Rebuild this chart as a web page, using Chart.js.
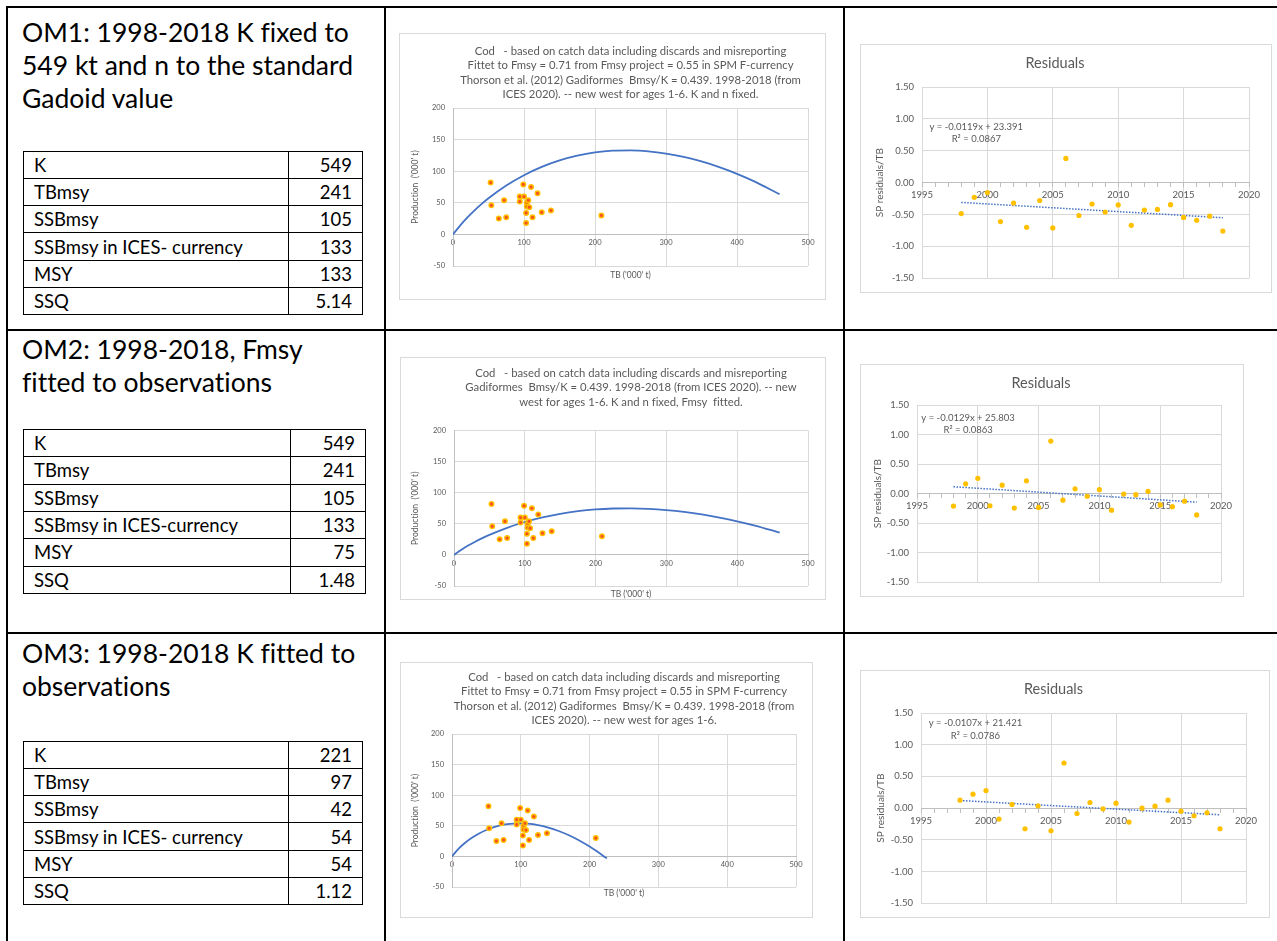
<!DOCTYPE html>
<html>
<head>
<meta charset="utf-8">
<script src="https://cdn.jsdelivr.net/npm/chart.js@4.4.1/dist/chart.umd.min.js"></script>
<style>
body { margin: 0; background: #fff; font-family: Lato, 'Open Sans', sans-serif; font-variant-ligatures: none; }
#page { position: relative; width: 1277px; height: 941px; overflow: hidden; background: #fff; }
.rule { position: absolute; background: #000; }
.om { position: absolute; left: 22px; font-size: 26.5px; line-height: 33px; color: #000; white-space: nowrap; }
table.p { position: absolute; left: 23px; border-collapse: collapse; font-size: 18.5px; color: #000; }
table.p td { border: 1.5px solid #000; padding: 0 10px; line-height: 20px; white-space: nowrap; }
table.p td.v { text-align: right; }
.box { position: absolute; border: 1px solid #d9d9d9; box-sizing: border-box; }
.box canvas { display: block; }
</style>
</head>
<body>
<div id="page">
  <!-- outer table lines -->
  <div class="rule" style="left:6px;top:6px;width:1271px;height:2px"></div>
  <div class="rule" style="left:6px;top:329px;width:1271px;height:2px"></div>
  <div class="rule" style="left:6px;top:632px;width:1271px;height:2px"></div>
  <div class="rule" style="left:6px;top:6px;width:2px;height:935px"></div>
  <div class="rule" style="left:384px;top:6px;width:2px;height:935px"></div>
  <div class="rule" style="left:843px;top:6px;width:2px;height:935px"></div>

  <div class="om" style="top:16px">OM1: 1998-2018 K fixed to<br>549 kt and n to the standard<br>Gadoid value</div>
  <table class="p" id="t1" style="top:151px;width:340px;height:164px"></table>

  <div class="om" style="top:333px">OM2: 1998-2018, Fmsy<br>fitted to observations</div>
  <table class="p" id="t2" style="top:429px;width:343px;height:165px"></table>

  <div class="om" style="top:637px">OM3: 1998-2018 K fitted to<br>observations</div>
  <table class="p" id="t3" style="top:741px;width:340px;height:164px"></table>

  <div class="box" style="left:399px;top:33px;width:427px;height:267px"><canvas id="p1" width="425" height="265"></canvas></div>
  <div class="box" style="left:400px;top:357px;width:426px;height:243px"><canvas id="p2" width="424" height="241"></canvas></div>
  <div class="box" style="left:400px;top:662px;width:413px;height:256px"><canvas id="p3" width="411" height="254"></canvas></div>

  <div class="box" style="left:860px;top:44px;width:412px;height:249px"><canvas id="r1" width="410" height="247"></canvas></div>
  <div class="box" style="left:860px;top:364px;width:384px;height:233px"><canvas id="r2" width="382" height="231"></canvas></div>
  <div class="box" style="left:860px;top:670px;width:410px;height:248px"><canvas id="r3" width="408" height="246"></canvas></div>
</div>

<script>
// parameter tables
const paramNames1 = ['K', 'TBmsy', 'SSBmsy', 'SSBmsy in ICES- currency', 'MSY', 'SSQ'];
const paramNames2 = ['K', 'TBmsy', 'SSBmsy', 'SSBmsy in ICES-currency', 'MSY', 'SSQ'];
const paramValues1 = ['549', '241', '105', '133', '133', '5.14'];
const paramValues2 = ['549', '241', '105', '133', '75', '1.48'];
const paramValues3 = ['221', '97', '42', '54', '54', '1.12'];

// observed TB vs production ('000 t), 1998-2018
const obsTB = [53, 54, 64.5, 72, 75, 94, 94, 99, 100, 103, 103, 104, 104, 106, 107.5, 110, 112, 119, 125, 138, 209];
const obsProd = [82, 46, 25, 54, 27, 60, 52, 79, 60, 34, 18, 50, 44, 54, 43, 75, 27, 65, 35, 38, 30];

// production curves
const curveTB12 = [0, 10, 20, 30, 40, 50, 75, 100, 125, 150, 175, 200, 225, 250, 275, 300, 325, 350, 375, 400, 425, 460];
const curveP1 = [0, 14, 26.5, 37.6, 47.8, 57.1, 77.3, 93.7, 106.8, 117.1, 124.6, 129.7, 132.4, 132.9, 131.4, 127.9, 122.5, 115.4, 106.4, 95.8, 83.5, 63.6];
const curveP2 = [0, 8, 15, 21.2, 27, 32.2, 43.6, 52.9, 60.2, 66, 70.3, 73.1, 74.6, 74.9, 74.1, 72.1, 69.1, 65.1, 60, 54, 47.1, 35.9];
const curveTB3 = [0, 10, 20, 30, 40, 50, 60, 70, 80, 97, 110, 125, 140, 155, 170, 185, 200, 210, 220, 225];
const curveP3 = [0, 13, 23.1, 31.2, 37.9, 43.2, 47.4, 50.5, 52.6, 54, 53.4, 51.1, 47.1, 41.5, 34.5, 26, 16.1, 8.7, 0.8, -3.3];

// residuals (SP residuals / TB)
const years = [1998, 1999, 2000, 2001, 2002, 2003, 2004, 2005, 2006, 2007, 2008, 2009, 2010, 2011, 2012, 2013, 2014, 2015, 2016, 2017, 2018];
const resid1 = [-0.485, -0.23, -0.155, -0.61, -0.32, -0.70, -0.28, -0.71, 0.38, -0.515, -0.335, -0.46, -0.35, -0.67, -0.43, -0.42, -0.345, -0.545, -0.59, -0.525, -0.76];
const resid2 = [-0.21, 0.167, 0.26, -0.205, 0.144, -0.244, 0.217, -0.233, 0.89, -0.11, 0.083, -0.044, 0.067, -0.28, -0.006, -0.017, 0.039, -0.19, -0.22, -0.128, -0.36];
const resid3 = [0.126, 0.22, 0.277, -0.173, 0.058, -0.325, 0.037, -0.356, 0.712, -0.084, 0.089, -0.01, 0.079, -0.22, 0, 0.031, 0.126, -0.047, -0.12, -0.073, -0.325];
const trendYears = [1998, 2018];
const trend1 = [-0.31, -0.55];
const trend2 = [0.117, -0.144];
const trend3 = [0.12, -0.105];
const eq1 = ['y = -0.0119x + 23.391', 'R\u00b2 = 0.0867'];
const eq2 = ['y = -0.0129x + 25.803', 'R\u00b2 = 0.0863'];
const eq3 = ['y = -0.0107x + 21.421', 'R\u00b2 = 0.0786'];

const title1 = ['Cod   - based on catch data including discards and misreporting',
  'Fittet to Fmsy = 0.71 from Fmsy project = 0.55 in SPM F-currency',
  'Thorson et al. (2012) Gadiformes  Bmsy/K = 0.439. 1998-2018 (from',
  'ICES 2020). -- new west for ages 1-6. K and n fixed.'];
const title2 = ['Cod   - based on catch data including discards and misreporting',
  'Gadiformes  Bmsy/K = 0.439. 1998-2018 (from ICES 2020). -- new',
  'west for ages 1-6. K and n fixed, Fmsy  fitted.'];
const title3 = ['Cod   - based on catch data including discards and misreporting',
  'Fittet to Fmsy = 0.71 from Fmsy project = 0.55 in SPM F-currency',
  'Thorson et al. (2012) Gadiformes  Bmsy/K = 0.439. 1998-2018 (from',
  'ICES 2020). -- new west for ages 1-6.'];

function fillTable(id, names, values) {
  const t = document.getElementById(id);
  names.forEach((n, i) => {
    const tr = document.createElement('tr');
    tr.innerHTML = '<td>' + n + '</td><td class="v">' + values[i] + '</td>';
    t.appendChild(tr);
  });
}
fillTable('t1', paramNames1, paramValues1);
fillTable('t2', paramNames2, paramValues2);
fillTable('t3', paramNames1, paramValues3);
document.querySelectorAll('#t1 td:first-child, #t3 td:first-child').forEach(td => td.style.width = '244px');
document.querySelector('#t2 td:first-child').style.width = '246px';

Chart.defaults.font.family = 'Lato, "Open Sans", sans-serif';
Chart.defaults.color = '#595959';
Chart.defaults.animation = false;

const GRID = '#d9d9d9';
const AXIS = '#bfbfbf';

// draws the trendline equation inside the plot
const eqPlugin = {
  id: 'eqLabel',
  afterDatasetsDraw(chart, args, opts) {
    if (!opts.lines) return;
    const ctx = chart.ctx;
    const x = chart.scales.x.getPixelForValue(opts.x);
    ctx.save();
    ctx.font = '9.5px Lato, "Open Sans", sans-serif';
    ctx.fillStyle = '#595959';
    ctx.textAlign = 'center';
    ctx.textBaseline = 'middle';
    opts.lines.forEach((l, i) => ctx.fillText(l, x, chart.scales.y.getPixelForValue(opts.y[i])));
    ctx.restore();
  }
};
Chart.register(eqPlugin);

function prodChart(id, cx, cy, title, lay) {
  new Chart(document.getElementById(id), {
    type: 'scatter',
    data: {
      datasets: [{
        data: obsTB.map((x, i) => ({ x: x, y: obsProd[i] })),
        pointRadius: 2.3,
        pointBackgroundColor: '#f4511e',
        pointBorderColor: '#ffc000',
        pointBorderWidth: 1.4,
        order: 0
      }, {
        data: cx.map((x, i) => ({ x: x, y: cy[i] })),
        showLine: true,
        borderColor: '#4472c4',
        borderWidth: 1.8,
        pointRadius: 0,
        cubicInterpolationMode: 'monotone',
        order: 1
      }]
    },
    options: {
      responsive: false,
      layout: { padding: { left: 0, right: lay.right, top: 0, bottom: 0 } },
      plugins: {
        legend: { display: false },
        tooltip: { enabled: false },
        title: {
          display: true, text: title, fullSize: false,
          font: { size: 11.3, weight: 'normal', lineHeight: '14.5px' },
          color: '#595959',
          padding: { top: lay.tTop, bottom: lay.tBot }
        },
        subtitle: {
          display: true, text: "TB ('000' t)", position: 'bottom', fullSize: false,
          font: { size: 8.5, lineHeight: '10px' },
          color: '#595959',
          padding: { top: lay.sTop, bottom: lay.sBot }
        }
      },
      scales: {
        x: {
          min: 0, max: 500, position: { y: 0 },
          ticks: { stepSize: 100, font: { size: 7.5 }, padding: 4 },
          grid: { color: GRID, drawTicks: false },
          border: { color: AXIS }
        },
        y: {
          min: -50, max: 200,
          ticks: { stepSize: 50, font: { size: 7.5 }, padding: 8 },
          grid: { color: GRID, drawTicks: false },
          border: { color: AXIS },
          title: {
            display: true, text: "Production  ('000' t)",
            font: { size: 8.5, lineHeight: '10px' },
            padding: { top: lay.yt, bottom: 0 }
          },
          afterFit: s => { s.width = lay.axisW; }
        }
      }
    }
  });
}

function residChart(id, res, trend, eq, lay) {
  new Chart(document.getElementById(id), {
    type: 'scatter',
    data: {
      datasets: [{
        data: years.map((x, i) => ({ x: x, y: res[i] })),
        pointRadius: 2.6,
        pointBackgroundColor: '#ffc000',
        pointBorderWidth: 0,
        order: 0
      }, {
        data: trendYears.map((x, i) => ({ x: x, y: trend[i] })),
        showLine: true,
        borderColor: '#4472c4',
        borderWidth: 1.5,
        borderDash: [1.5, 1.5],
        pointRadius: 0,
        order: 1
      }]
    },
    options: {
      responsive: false,
      layout: { padding: { left: 0, right: lay.right, top: 0, bottom: lay.bottom } },
      plugins: {
        legend: { display: false },
        tooltip: { enabled: false },
        title: {
          display: true, text: 'Residuals',
          font: { size: 14.5, weight: 'normal', lineHeight: '17px' },
          color: '#595959',
          padding: { top: lay.tTop, bottom: lay.tBot }
        },
        eqLabel: { lines: eq, x: lay.eqX, y: lay.eqY }
      },
      scales: {
        x: {
          min: 1995, max: 2020, position: { y: 0 },
          ticks: {
            stepSize: 1, autoSkip: false, maxRotation: 0, maxTicksLimit: 100,
            font: { size: 9.5 }, padding: 3,
            callback: v => (v % 5 === 0 ? String(v) : '')
          },
          grid: {
            color: c => (c.tick && c.tick.value % 5 === 0 ? GRID : 'rgba(0,0,0,0)'),
            tickColor: AXIS, tickLength: 4
          },
          border: { color: AXIS }
        },
        y: {
          min: -1.5, max: 1.5,
          ticks: { stepSize: 0.5, font: { size: 9.5 }, padding: 8, callback: v => v.toFixed(2) },
          grid: { color: GRID, drawTicks: false },
          border: { display: false },
          title: {
            display: true, text: 'SP residuals/TB',
            font: { size: 10, lineHeight: '11px' },
            padding: { top: lay.yt, bottom: 0 }
          },
          afterFit: s => { s.width = lay.axisW; }
        }
      }
    }
  });
}

prodChart('p1', curveTB12, curveP1, title1, { right: 17, tTop: 10, tBot: 6, sTop: 4, sBot: 19, yt: 10, axisW: 53 });
prodChart('p2', curveTB12, curveP2, title2, { right: 17, tTop: 8, tBot: 21, sTop: 3, sBot: 0, yt: 9, axisW: 53 });
prodChart('p3', curveTB3, curveP3, title3, { right: 16, tTop: 7, tBot: 6, sTop: 1, sBot: 19, yt: 9, axisW: 51 });

residChart('r1', resid1, trend1, eq1, { right: 22, bottom: 12, tTop: 10, tBot: 15, yt: 13.5, axisW: 61, eqX: 1999.15, eqY: [0.878, 0.69] });
residChart('r2', resid2, trend2, eq2, { right: 22, bottom: 11, tTop: 10, tBot: 13, yt: 11.5, axisW: 56, eqX: 1999.2, eqY: [1.283, 1.083] });
residChart('r3', resid3, trend3, eq3, { right: 23, bottom: 13, tTop: 10, tBot: 15, yt: 14.5, axisW: 60, eqX: 1999.19, eqY: [1.343, 1.138] });
</script>
</body>
</html>
